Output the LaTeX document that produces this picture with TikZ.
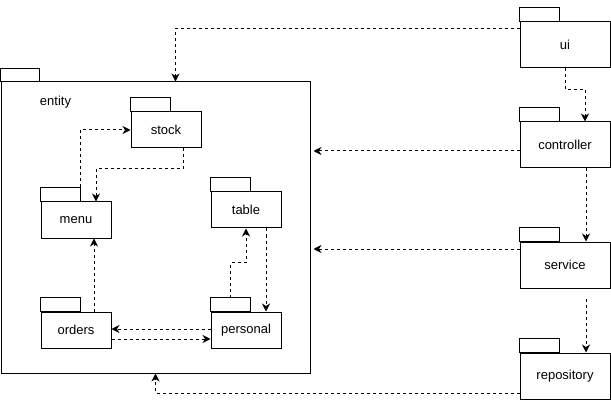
\documentclass[tikz,border=0pt]{standalone}
\usepackage{fontspec}
\setmainfont{Liberation Sans}
\usetikzlibrary{arrows.meta,calc}
\begin{document}
\begin{tikzpicture}[x=1pt,y=-1pt,
  pkgfont/.style={font=\fontsize{13}{15}\selectfont},
  pkg/.style={draw, line width=1pt, rectangle, anchor=north west, inner sep=0pt,
    minimum width=70pt, minimum height=36pt, pkgfont},
  bigpkg/.style={pkg, minimum width=90pt, minimum height=46pt},
  tabline/.style={draw, line width=1pt},
  dep/.style={line width=1pt, dash pattern=on 3pt off 3pt,
    -{Stealth[length=8pt,width=8pt,inset=2.5pt]}}
]
\useasboundingbox (0,0) rectangle (611,401);
\begin{scope}[shift={(0.5,0.5)}]
% entity package
\node[pkg, minimum width=309pt, minimum height=291pt] (entity) at (0,81) {};
\draw[tabline] (entity.north west) rectangle ++(39,-13) coordinate (entitytab);
\node[pkgfont] (entitylabel) at (55,102) {entity};

% inner packages
\node[pkg] (stock) at (130,111) {stock};
\draw[tabline] (stock.north west) rectangle ++(40,-14) coordinate (stocktab);
\node[pkg] (menu) at (40,201) {menu};
\draw[tabline] (menu.north west) rectangle ++(40,-14) coordinate (menutab);
\node[pkg] (table) at (210,191) {table};
\draw[tabline] (table.north west) rectangle ++(40,-14) coordinate (tabletab);
\node[pkg] (orders) at (40,311) {orders};
\draw[tabline] (orders.north west) rectangle ++(40,-14) coordinate (orderstab);
\node[pkg] (personal) at (210,311) {personal};
\draw[tabline] (personal.north west) rectangle ++(40,-14) coordinate (personaltab);

% right column packages
\node[bigpkg] (ui) at (519,21) {ui};
\draw[tabline] (ui.north west) rectangle ++(40,-14) coordinate (uitab);
\node[bigpkg] (controller) at (519,121) {controller};
\draw[tabline] (controller.north west) rectangle ++(40,-14) coordinate (controllertab);
\node[bigpkg] (service) at (519,241) {service};
\draw[tabline] (service.north west) rectangle ++(40,-14) coordinate (servicetab);
\node[bigpkg] (repository) at (519,352) {repository};
\draw[tabline] (repository.north west) rectangle ++(40,-14) coordinate (repositorytab);

% inner dependencies
\draw[dep] (menutab) |- (stock.west);
\draw[dep] ($(stock.south west)+(53,0)$) -- ++(0,20) -| ($(menu.north)+(20,0)$);
\draw[dep] ($(orders.north)+(18,0)$) -- ($(menu.south)+(18,0)$);
\draw[dep] ($(personaltab)+(-20,0)$) -- ++(0,-35) -| (table.south);
\draw[dep] ($(table.south)+(20,0)$) -- ($(personal.north)+(20,0)$);
\draw[dep] ($(personal.west)+(0,-1)$) -- ($(orders.east)+(0,-1)$);
\draw[dep] ($(orders.east)+(0,9)$) -- ($(personal.west)+(0,9)$);

% outer dependencies
\draw[dep] ($(ui.north west)+(0,7)$) -| ($(entity.north)+(20,0)$);
\draw[dep] (ui.south) -- ++(0,21) -| ($(controller.north)+(20,0)$);
\draw[dep] ($(controller.west)+(0,6)$) -- ($(entity.east |- controller.west)+(3,6)$);
\draw[dep] ($(controller.south)+(21,0)$) -- ($(service.north)+(21,0)$);
\draw[dep] ($(service.west)+(0,-16)$) -- ($(entity.east |- service.west)+(3,-16)$);
\draw[dep] ($(service.south)+(21,10)$) -- ($(repository.north)+(21,0)$);
\draw[dep] ($(repository.west)+(0,17)$) -| (entity.south);
\end{scope}
\end{tikzpicture}
\end{document}
